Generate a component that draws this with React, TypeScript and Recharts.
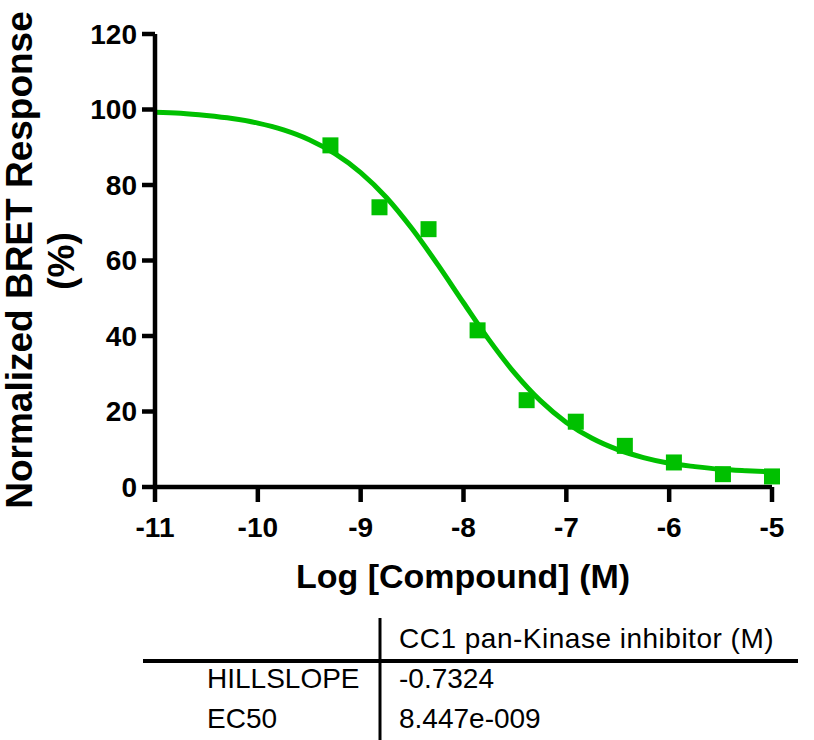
import React from "react";
import { ComposedChart, Line, Scatter, XAxis, YAxis, Label } from "recharts";

// measured dose-response points (log M vs % response)
const logConc = [-9.294, -8.817, -8.34, -7.863, -7.386, -6.908, -6.431, -5.954, -5.477, -5.0];
const response = [90.5, 74.1, 68.3, 41.5, 23.0, 17.3, 10.9, 6.5, 3.4, 2.8];

// fitted curve, every 0.25 log unit
const curveLogX = [
  -11, -10.75, -10.5, -10.25, -10, -9.75, -9.5, -9.25, -9, -8.75, -8.5, -8.25, -8,
  -7.75, -7.5, -7.25, -7, -6.75, -6.5, -6.25, -6, -5.75, -5.5, -5.25, -5,
];
const curveY = [
  99.3, 99.0, 98.4, 97.6, 96.4, 94.6, 92.0, 88.3, 83.3, 76.7, 68.4, 58.9, 48.8,
  38.9, 30.1, 22.8, 17.1, 12.9, 9.9, 7.8, 6.3, 5.4, 4.7, 4.3, 4.0,
];

const xTicks = [-11, -10, -9, -8, -7, -6, -5];
const yTicks = [0, 20, 40, 60, 80, 100, 120];

const tableHeader = "CC1 pan-Kinase inhibitor (M)";
const paramNames = ["HILLSLOPE", "EC50"];
const paramValues = ["-0.7324", "8.447e-009"];

const GREEN = "#00C000";
const FONT = "'Liberation Sans', Arial, sans-serif";

const points = logConc.map((x, i) => ({ x, y: response[i] }));
const curve = curveLogX.map((x, i) => ({ x, y: curveY[i] }));

const axisStroke = { stroke: "#000", strokeWidth: 4.5 };
const tickFont = { fontSize: 28, fontWeight: "bold", fill: "#000", fontFamily: FONT };

function SquareDot(props: any) {
  const { cx, cy } = props;
  return <rect x={cx - 8} y={cy - 8} width={16} height={16} fill={GREEN} />;
}

function ParamTable() {
  const txt = { fontSize: 28, fill: "#000", fontFamily: FONT };
  return (
    <svg width={814} height={140} style={{ position: "absolute", left: 0, top: 600 }}>
      <line x1={380} y1={18} x2={380} y2={140} stroke="#000" strokeWidth={3} />
      <line x1={143} y1={61} x2={798} y2={61} stroke="#000" strokeWidth={4} />
      <text x={399} y={48} letterSpacing={0.5} {...txt}>{tableHeader}</text>
      {paramNames.map((name, i) => (
        <g key={name}>
          <text x={207} y={88 + i * 40} {...txt}>{name}</text>
          <text x={399} y={88 + i * 40} {...txt}>{paramValues[i]}</text>
        </g>
      ))}
    </svg>
  );
}

export default function App() {
  return (
    <div style={{ position: "absolute", left: 0, top: 0, width: 814, height: 740, background: "#fff" }}>
      <ComposedChart
        width={814}
        height={600}
        margin={{ top: 34, right: 42, left: 0, bottom: 0 }}
        style={{ position: "absolute", left: 0, top: 0 }}
      >
        <XAxis
          dataKey="x"
          type="number"
          domain={[-11, -5]}
          ticks={xTicks}
          height={113}
          axisLine={axisStroke}
          tickLine={axisStroke}
          tickSize={15}
          tickMargin={15}
          tick={tickFont}
        >
          <Label
            content={() => (
              <text
                x={463}
                y={588}
                textAnchor="middle"
                fontSize={34}
                fontWeight="bold"
                fontFamily={FONT}
                fill="#000"
              >
                Log [Compound] (M)
              </text>
            )}
          />
        </XAxis>
        <YAxis
          dataKey="y"
          type="number"
          domain={[0, 120]}
          ticks={yTicks}
          width={155}
          axisLine={axisStroke}
          tickLine={axisStroke}
          tickSize={13}
          tickMargin={5}
          tick={tickFont}
        >
          <Label
            content={() => (
              <g fontSize={37} fontWeight="bold" fontFamily={FONT} fill="#000">
                <text x={32} y={260} textAnchor="middle" transform="rotate(-90, 32, 260)">
                  Normalized BRET Response
                </text>
                <text x={74} y={261} textAnchor="middle" transform="rotate(-90, 74, 261)">
                  (%)
                </text>
              </g>
            )}
          />
        </YAxis>
        <Line
          data={curve}
          dataKey="y"
          type="monotone"
          stroke={GREEN}
          strokeWidth={5}
          dot={false}
          activeDot={false}
          isAnimationActive={false}
        />
        <Scatter data={points} dataKey="y" fill={GREEN} shape={SquareDot} isAnimationActive={false} />
      </ComposedChart>
      <ParamTable />
    </div>
  );
}
